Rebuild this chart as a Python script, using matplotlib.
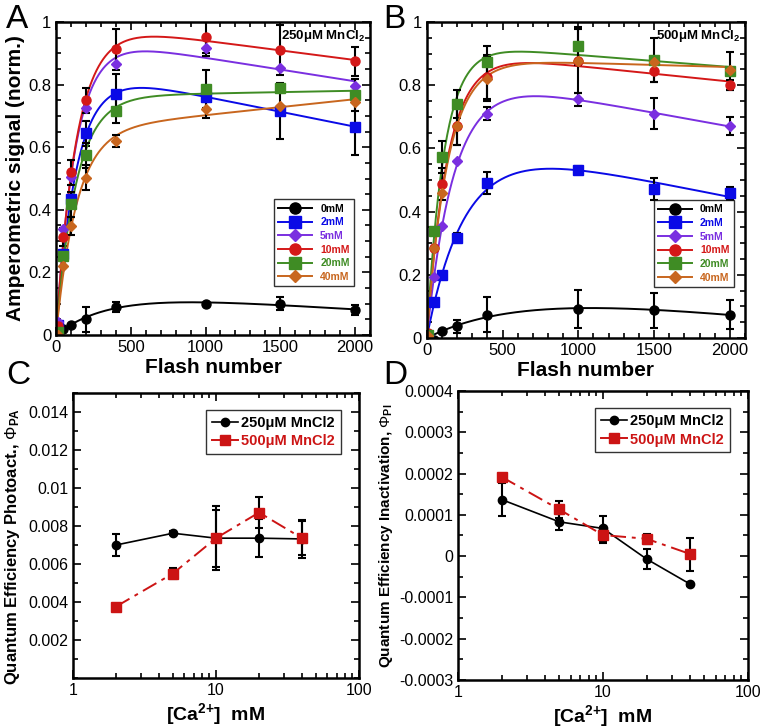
import matplotlib
matplotlib.use("Agg")
import matplotlib.pyplot as plt
import numpy as np
from matplotlib.lines import Line2D
from matplotlib.ticker import MultipleLocator, LogLocator, NullFormatter, FixedLocator, FixedFormatter

plt.rcParams['font.family'] = ['Liberation Sans', 'DejaVu Sans']
plt.rcParams['mathtext.fontset'] = 'custom'
plt.rcParams['mathtext.rm'] = 'Liberation Sans'
plt.rcParams['mathtext.bf'] = 'Liberation Sans:bold'
plt.rcParams['mathtext.it'] = 'Liberation Sans:italic'

# ---- data ----
flash = [10, 50, 100, 200, 400, 1000, 1500, 2000]
ca_labels = ['0mM', '2mM', '5mM', '10mM', '20mM', '40mM']
ca_colors = ['black', '#0a0ae6', '#7a2fe0', '#d41818', '#3f8c24', '#c8661e']
ca_markers = ['o', 's', 'D', 'o', 's', 'D']

a_values = [
    [0.03, 0.02, 0.033, 0.05, 0.09, 0.10, 0.10, 0.08],
    [0.033, 0.26, 0.435, 0.645, 0.77, 0.76, 0.715, 0.665],
    [0.04, 0.34, 0.505, 0.725, 0.865, 0.917, 0.853, 0.796],
    [0.03, 0.313, 0.52, 0.75, 0.913, 0.952, 0.91, 0.874],
    [0.01, 0.254, 0.418, 0.575, 0.716, 0.786, 0.788, 0.767],
    [0.0, 0.222, 0.348, 0.502, 0.62, 0.722, 0.732, 0.744],
]
a_errors = [
    [0.0, 0.0, 0.0, 0.04, 0.015, 0.0, 0.02, 0.015],
    [0.0, 0.0, 0.0, 0.04, 0.065, 0.0, 0.09, 0.09],
    [0.0, 0.0, 0.0, 0.0, 0.0, 0.025, 0.0, 0.0],
    [0.0, 0.03, 0.04, 0.04, 0.065, 0.05, 0.08, 0.045],
    [0.0, 0.0, 0.04, 0.04, 0.04, 0.06, 0.0, 0.05],
    [0.0, 0.0, 0.03, 0.04, 0.02, 0.03, 0.0, 0.0],
]
b_values = [
    [0.0, -0.005, 0.023, 0.037, 0.074, 0.093, 0.088, 0.074],
    [0.0, 0.115, 0.2, 0.318, 0.49, 0.533, 0.473, 0.458],
    [0.01, 0.193, 0.355, 0.56, 0.71, 0.755, 0.71, 0.671],
    [0.015, 0.284, 0.488, 0.671, 0.827, 0.877, 0.845, 0.80],
    [0.01, 0.34, 0.573, 0.74, 0.873, 0.925, 0.88, 0.845],
    [0.005, 0.284, 0.458, 0.67, 0.82, 0.877, 0.875, 0.848],
]
b_errors = [
    [0.0, 0.0, 0.0, 0.02, 0.055, 0.06, 0.055, 0.045],
    [0.0, 0.0, 0.0, 0.015, 0.035, 0.01, 0.035, 0.02],
    [0.0, 0.0, 0.0, 0.0, 0.02, 0.02, 0.05, 0.03],
    [0.0, 0.0, 0.05, 0.06, 0.07, 0.1, 0.035, 0.015],
    [0.0, 0.0, 0.05, 0.045, 0.05, 0.06, 0.07, 0.06],
    [0.0, 0.0, 0.0, 0.06, 0.07, 0.0, 0.0, 0.0],
]

ca_conc = [2, 5, 10, 20, 40]
c_250 = [0.0070, 0.00762, 0.00736, 0.00736, 0.00732]
c_250_err = [0.0006, 0.0001, 0.0015, 0.001, 0.001]
c_500 = [0.00376, 0.0055, 0.00736, 0.00871, 0.00736]
c_500_err = [0.0001, 0.0003, 0.0017, 0.0008, 0.0009]
d_250 = [0.000137, 0.000083, 0.000067, -0.000007, -0.000068]
d_250_err = [0.00004, 0.00002, 0.00003, 0.000025, 0.000005]
d_500 = [0.000192, 0.000113, 0.000051, 0.000042, 0.000005]
d_500_err = [0.000005, 0.00002, 0.00002, 0.000012, 0.00004]

RED = '#cc1414'
DASHDOT = (0, (8, 3, 2, 3))


def fit_curve(x, y, xs):
    # (A + B x)(1 - exp(-k x)), k by grid search, A and B by least squares
    x = np.asarray(x, float)
    y = np.asarray(y, float)
    best = None
    for k in np.logspace(-4, -1, 400):
        g = 1 - np.exp(-k * x)
        M = np.column_stack([g, x * g])
        coef, *_ = np.linalg.lstsq(M, y, rcond=None)
        r = np.sum((M @ coef - y) ** 2)
        if best is None or r < best[0]:
            best = (r, k, coef)
    _, k, coef = best
    g = 1 - np.exp(-k * xs)
    return (coef[0] + coef[1] * xs) * g


def style_axes(ax):
    ax.tick_params(which='both', direction='in', top=True, right=True, width=1.2)
    ax.tick_params(which='major', length=6)
    ax.tick_params(which='minor', length=3.5)
    for s in ax.spines.values():
        s.set_linewidth(1.8)


def kinetics_panel(ax, values, errors, note, anchor):
    xs = np.linspace(0, 2000, 400)
    for i in range(len(values)):
        ax.plot(xs, fit_curve(flash, values[i], xs), color=ca_colors[i], lw=1.4)
        ms = 6.5 if ca_markers[i] != 'D' else 5
        ax.errorbar(flash, values[i], yerr=errors[i], fmt=ca_markers[i], color=ca_colors[i],
                    ms=ms, ecolor='black', elinewidth=1.5, capsize=3, capthick=1.5)
    for i in range(len(values)):
        ax.plot([], [], marker=ca_markers[i], color=ca_colors[i], lw=1.4,
                ms=8 if ca_markers[i] != 'D' else 6, label=ca_labels[i])
    leg = ax.legend(loc='lower right', bbox_to_anchor=anchor, handlelength=3.2,
                    frameon=True, fancybox=False, edgecolor='black', labelspacing=0.35,
                    prop={'weight': 'bold', 'size': 7.5})
    for t, c in zip(leg.get_texts(), ca_colors):
        t.set_color(c)
    leg.get_frame().set_linewidth(1.0)
    ax.text(0.985, 0.955, note, transform=ax.transAxes, ha='right', va='center',
            fontsize=9.5, fontweight='bold')
    ax.set_xlim(0, 2100)
    ax.set_ylim(0, 1)
    ax.set_xticks([0, 500, 1000, 1500, 2000])
    ax.set_yticks([0, 0.2, 0.4, 0.6, 0.8, 1])
    ax.set_yticklabels(['0', '0.2', '0.4', '0.6', '0.8', '1'])
    ax.xaxis.set_minor_locator(MultipleLocator(100))
    ax.yaxis.set_minor_locator(MultipleLocator(0.05))
    ax.tick_params(labelsize=12)
    ax.set_xlabel('Flash number', fontsize=15, fontweight='bold', labelpad=2)
    style_axes(ax)


def efficiency_panel(ax, y1, e1, y2, e2):
    ax.errorbar(ca_conc, y1, yerr=e1, fmt='-o', color='black', ms=6, lw=1.2,
                ecolor='black', elinewidth=1.5, capsize=3, capthick=1.5)
    ax.errorbar(ca_conc, y2, yerr=e2, fmt='s', ls=DASHDOT, color=RED, ms=6.5, lw=1.4,
                ecolor='black', elinewidth=1.5, capsize=3, capthick=1.5)
    ax.set_xscale('log')
    ax.set_xlim(1, 100)
    ax.xaxis.set_major_locator(FixedLocator([1, 10, 100]))
    ax.xaxis.set_major_formatter(FixedFormatter(['1', '10', '100']))
    ax.xaxis.set_minor_locator(LogLocator(base=10, subs=np.arange(2, 10)))
    ax.xaxis.set_minor_formatter(NullFormatter())
    ax.set_xlabel('[Ca$^{\\mathbf{2{+}}}$]  mM', fontsize=14, fontweight='bold', labelpad=2)
    handles = [Line2D([], [], color='black', marker='o', ms=6, lw=1.2),
               Line2D([], [], color=RED, marker='s', ms=6.5, lw=1.4)]
    leg = ax.legend(handles, ['250μM MnCl2', '500μM MnCl2'], loc='upper right',
                    bbox_to_anchor=(0.962, 0.965), fancybox=False,
                    edgecolor='black', handlelength=1.8, handletextpad=0.2, labelspacing=0.3,
                    prop={'weight': 'bold', 'size': 10.5})
    leg.get_texts()[1].set_color(RED)
    leg.get_frame().set_linewidth(1.0)
    ax.tick_params(labelsize=11.5)
    style_axes(ax)


fig = plt.figure(figsize=(7.62, 7.27), dpi=100)

axA = fig.add_axes([0.0735, 0.5392, 0.4121, 0.4305])
kinetics_panel(axA, a_values, a_errors, '250μM MnCl$_\\mathbf{2}$', (0.965, 0.14))
axA.set_ylabel('Amperometric signal (norm.)', fontsize=15, fontweight='bold', labelpad=2)

axB = fig.add_axes([0.560, 0.535, 0.4177, 0.4347])
kinetics_panel(axB, b_values, b_errors, '500μM MnCl$_\\mathbf{2}$', (0.981, 0.146))

axC = fig.add_axes([0.0958, 0.0674, 0.3753, 0.392])
efficiency_panel(axC, c_250, c_250_err, c_500, c_500_err)
axC.set_ylim(0, 0.015)
axC.set_yticks([0.002, 0.004, 0.006, 0.008, 0.01, 0.012, 0.014])
axC.set_yticklabels(['0.002', '0.004', '0.006', '0.008', '0.01', '0.012', '0.014'])
axC.yaxis.set_minor_locator(MultipleLocator(0.001))
axC.set_ylabel('Quantum Efficiency Photoact., $\\Phi_{\\mathbf{PA}}$', fontsize=12,
               fontweight='bold', labelpad=3)
axC.yaxis.set_label_coords(-0.18, 0.46)

axD = fig.add_axes([0.601, 0.0647, 0.3805, 0.3975])
efficiency_panel(axD, d_250, d_250_err, d_500, d_500_err)
axD.set_ylim(-0.0003, 0.0004)
dticks = [-0.0003, -0.0002, -0.0001, 0, 0.0001, 0.0002, 0.0003, 0.0004]
axD.set_yticks(dticks)
axD.set_yticklabels(['-0.0003', '-0.0002', '-0.0001', '0', '0.0001', '0.0002', '0.0003', '0.0004'])
axD.yaxis.set_minor_locator(MultipleLocator(0.00005))
axD.set_ylabel('Quantum Efficiency Inactivation, $\\Phi_{\\mathbf{PI}}$', fontsize=11,
               fontweight='bold', labelpad=3)

for lbl, x, y in [('A', 0.008, 0.995), ('B', 0.503, 0.995), ('C', 0.008, 0.505), ('D', 0.503, 0.505)]:
    fig.text(x, y, lbl, fontsize=24, ha='left', va='top')

fig.savefig('out.png', dpi=100)
